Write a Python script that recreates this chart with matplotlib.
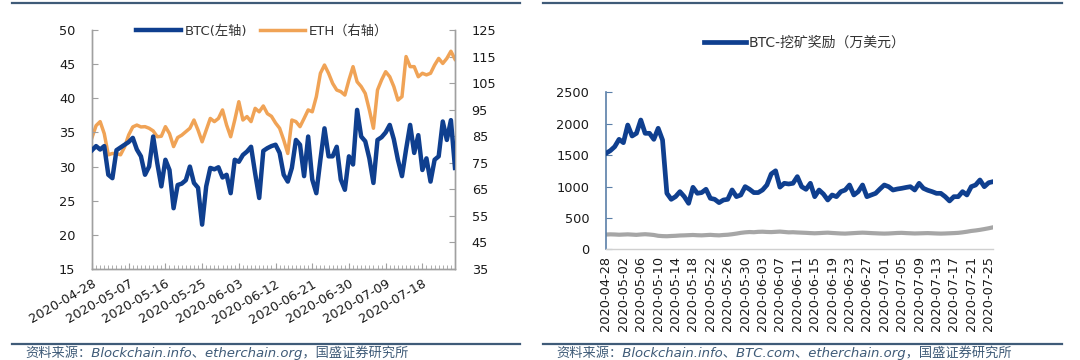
import matplotlib
matplotlib.use("Agg")
import matplotlib.pyplot as plt
import pandas as pd
from matplotlib.ticker import MultipleLocator
from matplotlib.lines import Line2D

plt.rcParams['font.family'] = ['DejaVu Sans', 'Noto Sans CJK SC']
plt.rcParams['axes.unicode_minus'] = False

# ---------------- data ----------------
btc = [32.4, 33.0, 32.5, 33.0, 28.8, 28.3, 32.4, 32.8, 33.2, 33.6,
       34.2, 32.5, 31.5, 28.8, 30.0, 34.4, 30.5, 27.1, 31.0, 29.5,
       23.9, 27.3, 27.5, 28.0, 30.0, 27.6, 26.9, 21.5, 27.1, 29.8,
       29.6, 29.9, 28.4, 28.8, 26.1, 31.0, 30.7, 31.7, 32.2, 32.9,
       29.0, 25.4, 32.3, 32.7, 33.0, 33.2, 32.0, 28.8, 27.8, 29.8,
       33.9, 33.2, 28.6, 34.4, 28.1, 26.1, 31.0, 35.6, 31.5, 31.5,
       32.9, 28.1, 26.6, 31.5, 30.3, 38.3, 34.4, 33.7, 31.2, 27.6,
       33.9, 34.3, 35.0, 36.1, 34.0, 31.0, 28.6, 32.5, 36.1, 32.0,
       34.6, 29.5, 31.2, 27.8, 31.0, 31.5, 36.6, 33.9, 36.8, 29.8]

eth = [84.5, 89.0, 90.5, 86.0, 78.0, 78.5, 78.5, 78.0, 81.0, 85.5,
       88.5, 89.2, 88.5, 88.6, 88.0, 87.0, 84.8, 85.0, 88.6, 86.0,
       81.1, 84.5, 85.4, 86.7, 88.0, 91.1, 87.3, 82.9, 87.3, 91.7,
       90.5, 91.7, 94.9, 89.2, 84.8, 91.1, 98.0, 91.1, 92.4, 90.5,
       95.5, 94.2, 96.4, 93.5, 92.5, 90.0, 88.0, 83.6, 78.5, 91.1,
       90.5, 88.6, 91.7, 94.9, 94.2, 99.9, 108.7, 111.8, 108.7, 104.9,
       102.4, 101.8, 100.5, 106.2, 111.2, 105.5, 103.7, 101.1, 94.9, 88.0,
       102.4, 106.2, 109.3, 107.4, 103.7, 98.6, 99.9, 115.0, 111.2, 111.2,
       107.4, 108.7, 108.1, 108.7, 111.8, 114.3, 112.4, 114.3, 117.0, 114.0]

mining_reward = [1528, 1571, 1634, 1751, 1698, 1979, 1804, 1847, 2059, 1847,
                 1847, 1751, 1927, 1740, 892, 796, 839, 918, 839, 732,
                 987, 892, 903, 956, 812, 796, 743, 785, 796, 945,
                 839, 865, 998, 956, 903, 903, 945, 1024, 1200, 1250,
                 990, 1051, 1040, 1051, 1157, 997, 955, 1051, 838, 944,
                 880, 785, 865, 838, 918, 944, 1024, 865, 918, 1024,
                 838, 865, 891, 960, 1024, 997, 944, 960, 971, 985,
                 997, 944, 1051, 971, 940, 918, 891, 891, 838, 770,
                 838, 838, 918, 865, 997, 1024, 1104, 997, 1060, 1077]

grey_series = [235, 238, 236, 232, 235, 238, 234, 230, 236, 240, 235, 228,
               215, 210, 208, 212, 215,
               220, 222, 225, 228, 224, 222, 226, 230, 225, 222, 228, 232,
               240, 250, 262, 270, 275, 272, 278,
               280, 276, 274, 278, 282, 276, 270, 272, 268, 265,
               262, 258, 255, 258, 262, 265, 260, 256, 252, 250, 254, 258, 262, 265, 262,
               258, 255, 252, 250, 252, 256, 260, 262, 258, 255, 252, 254, 256, 258, 255, 252, 250, 252, 255,
               258, 262, 270, 280, 292, 300, 310, 322, 335, 350]

dates_left = pd.date_range('2020-04-28', periods=len(btc)).strftime('%Y-%m-%d').tolist()
dates_right = pd.date_range('2020-04-28', periods=len(mining_reward)).strftime('%Y-%m-%d').tolist()

left_label_step = 9
right_label_step = 4

BLUE = '#0f3f8f'
ORANGE = '#f0a356'
GREY = '#a6a6a6'
RULE = '#3f5b78'
TXT = '#1a1a1a'

fig = plt.figure(figsize=(10.8, 3.6), dpi=100)

# ---------------- left chart ----------------
axl = fig.add_axes([92/1080, 1-269/360, (455-92)/1080, (269-30)/360])
axr = axl.twinx()
xl = list(range(len(btc)))
l1, = axl.plot(xl, btc, color=BLUE, lw=3.2, solid_joinstyle='round', zorder=3)
l2, = axr.plot(xl, eth, color=ORANGE, lw=2.5, solid_joinstyle='round', zorder=2)
axl.set_zorder(axr.get_zorder() + 1)
axl.patch.set_visible(False)

axl.set_xlim(0, len(btc) - 1)
axl.set_ylim(15, 50)
axr.set_ylim(35, 125)
axl.set_yticks(range(15, 51, 5))
axr.set_yticks(range(35, 126, 10))
axl.set_xticks(xl[::left_label_step])
axl.set_xticklabels(dates_left[::left_label_step], rotation=30, ha='right',
                    rotation_mode='anchor', fontsize=9.3, color=TXT)
axl.xaxis.set_minor_locator(MultipleLocator(1))
for a in (axl, axr):
    for s in a.spines.values():
        s.set_color('#a0a0a0')
        s.set_linewidth(1.0)
    a.spines['top'].set_visible(False)
axl.tick_params(axis='y', direction='in', length=4, color='#a0a0a0', pad=12,
                labelsize=9.3, labelcolor=TXT)
axr.tick_params(axis='y', direction='in', length=4, color='#a0a0a0', pad=12,
                labelsize=9.3, labelcolor=TXT)
axl.tick_params(axis='x', which='major', direction='in', length=4, color='#a0a0a0', pad=6)
axl.tick_params(axis='x', which='minor', direction='in', length=3, color='#a0a0a0')

fig.legend([l1, l2], ['BTC(左轴)', 'ETH（右轴）'], loc='center',
           bbox_to_anchor=(262/1080, 1-31/360), ncol=2, frameon=False,
           fontsize=9.5, handlelength=3.4, handletextpad=0.3, columnspacing=1.0,
           labelcolor='#333333')

# ---------------- right chart ----------------
ax2 = fig.add_axes([606/1080, 1-249.3/360, (993-606)/1080, (249.3-92.3)/360])
xr = list(range(len(mining_reward)))
g, = ax2.plot(xr, grey_series, color=GREY, lw=3.0, solid_joinstyle='round', zorder=2)
b, = ax2.plot(xr, mining_reward, color=BLUE, lw=3.4, solid_joinstyle='round', zorder=3)
ax2.set_xlim(0, len(mining_reward) - 1)
ax2.set_ylim(0, 2500)
ax2.set_yticks(range(0, 2501, 500))
ax2.set_xticks(xr[::right_label_step])
ax2.set_xticklabels(dates_right[::right_label_step], rotation=90, fontsize=9.3, color=TXT)
for s in ('top', 'right'):
    ax2.spines[s].set_visible(False)
ax2.spines['left'].set_color('#5a7fa8')
ax2.spines['left'].set_linewidth(1.2)
ax2.spines['bottom'].set_color('#d0d0d0')
ax2.spines['bottom'].set_linewidth(1.0)
ax2.tick_params(axis='y', direction='in', length=4, color='#5a7fa8', pad=12,
                labelsize=9.3, labelcolor=TXT)
ax2.tick_params(axis='x', length=0, pad=5)

fig.legend([b], ['BTC-挖矿奖励（万美元）'], loc='center',
           bbox_to_anchor=(805/1080, 1-43/360), frameon=False,
           fontsize=10, handlelength=3.0, handletextpad=0.2, labelcolor='#333333')

# ---------------- rules and source notes ----------------
for (x0, x1) in [(12, 520), (543, 1062)]:
    for y in (2.5, 344):
        fig.add_artist(Line2D([x0/1080, x1/1080], [1-y/360, 1-y/360],
                              color=RULE, lw=1.6, transform=fig.transFigure))

fig.text(25/1080, 1-352.5/360, '资料来源：Blockchain.info、etherchain.org，国盛证券研究所',
         fontsize=9.5, color=RULE, style='italic', ha='left', va='center')
fig.text(556/1080, 1-352.5/360, '资料来源：Blockchain.info、BTC.com、etherchain.org，国盛证券研究所',
         fontsize=9.5, color=RULE, style='italic', ha='left', va='center')

fig.savefig('out.png', dpi=100)
